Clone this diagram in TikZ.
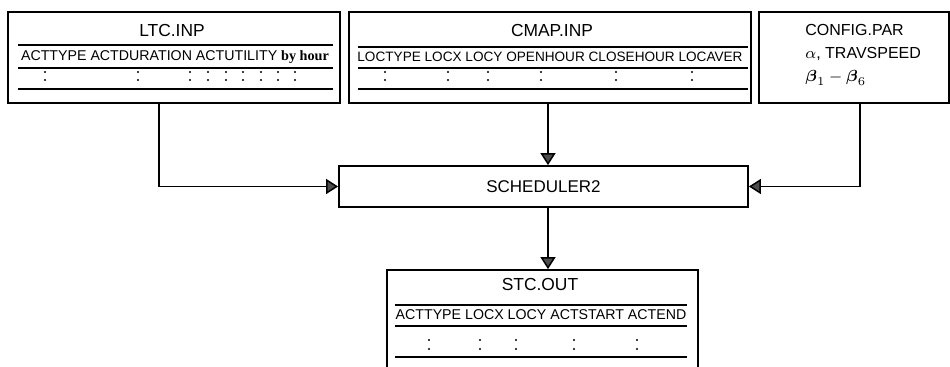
\documentclass[tikz,border=0pt]{standalone}
\usepackage{amsmath}
\usepackage{fontspec}
\setmainfont{Liberation Sans}
\newfontfamily\byfont{Liberation Serif}
\usetikzlibrary{arrows.meta, positioning}

\begin{document}
\begin{tikzpicture}[
    x=0.5pt, y=-0.5pt,
    filebox/.style={draw, line width=0.9pt, minimum height=45.5pt, inner sep=0pt},
    progbox/.style={draw, line width=0.9pt, minimum width=204.5pt, minimum height=20.5pt,
        font=\fontsize{8.5}{10}\selectfont},
    title/.style={font=\fontsize{8.7}{10}\selectfont, inner sep=0pt},
    header/.style={font=\fontsize{7.1}{8}\selectfont, inner sep=0pt},
    rule/.style={line width=0.8pt},
    arrow/.style={-{Triangle[length=6pt, width=7.5pt, fill=black!70]}, line width=0.75pt}
]
\useasboundingbox (0,0) rectangle (950,367);
\clip (0,0) rectangle (950,367);

\node[filebox, minimum width=166pt] (ltc) at (174,57.5) {};
\node[title] (ltctitle) at (172,31) {LTC.INP};
\node[header] (ltchead) at (175,57) {ACTTYPE ACTDURATION ACTUTILITY {\byfont\bfseries by hour}};
\draw[rule] (18,45) -- (333,45) (18,68) -- (333,68) (18,89) -- (333,89);
\foreach \x in {45,138,190,208,226,243,261,278,295}
    \fill (\x,72) circle (0.55pt) (\x,80) circle (0.55pt);

\node[filebox, minimum width=201pt] (cmap) at (550,57.5) {};
\node[title] (cmaptitle) at (552,31) {CMAP.INP};
\node[header, font=\fontsize{6.8}{8}\selectfont] (cmaphead) at (550,57) {LOCTYPE LOCX LOCY OPENHOUR CLOSEHOUR LOCAVER};
\draw[rule] (358,47) -- (748,47) (358,68) -- (748,68) (358,89) -- (748,89);
\foreach \x in {385,448,488,541,616,692}
    \fill (\x,72) circle (0.55pt) (\x,80) circle (0.55pt);

\node[filebox, minimum width=95pt] (config) at (854,57.5) {};
\node[title, anchor=west, align=left, font=\fontsize{8}{11.5}\selectfont] (configtxt) at (805,55)
    {CONFIG.PAR\\$\alpha$, TRAVSPEED\\$\boldsymbol{\beta}_1-\boldsymbol{\beta}_6$};

\node[progbox] (sched) at (543.5,186.5) {SCHEDULER2};

\node[filebox, minimum width=155.5pt, minimum height=60pt] (stc) at (542.5,330) {};
\node[title] (stctitle) at (540,285) {STC.OUT};
\node[header] (stchead) at (541,315) {ACTTYPE LOCX LOCY ACTSTART ACTEND};
\draw[rule] (395,305) -- (687,305) (395,357) -- (687,357);
\draw[line width=1.3pt] (395,326) -- (687,326);
\foreach \x in {429,480,516,574,637}
    \fill (\x,340) circle (0.55pt) (\x,349) circle (0.55pt);

\draw[arrow] ([xshift=-7.5pt]ltc.south) |- (sched.west);
\draw[arrow] ([xshift=-1pt]cmap.south) -- ([xshift=-1pt]cmap.south |- sched.north);
\draw[arrow] ([xshift=3pt]config.south) |- (sched.east);
\draw[arrow] ([xshift=2.25pt]sched.south) -- ([xshift=2.25pt]sched.south |- stc.north);
\end{tikzpicture}
\end{document}
